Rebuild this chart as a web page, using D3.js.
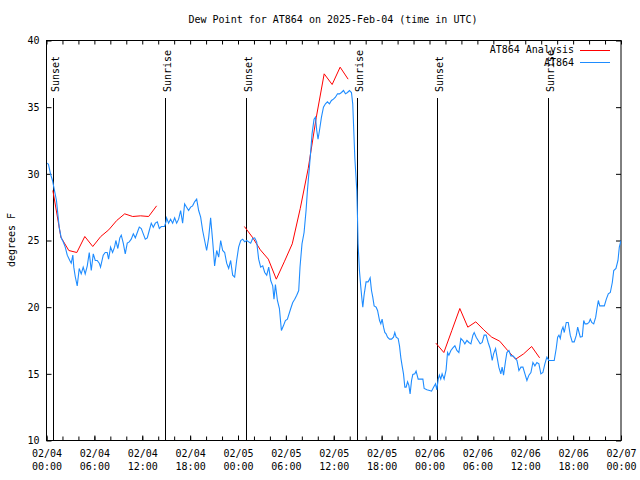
<!DOCTYPE html>
<html>
<head>
<meta charset="utf-8">
<script src="https://cdn.jsdelivr.net/npm/d3@7/dist/d3.min.js"></script>
<style>
html,body{margin:0;padding:0;background:#fff;}
svg{display:block;}
text{font-family:"DejaVu Sans Mono","Liberation Mono",monospace;font-size:10px;fill:#000;}
</style>
</head>
<body>
<script>
// ---- data (hours after 2025-02-04 00:00 UTC) ----
const titleText = "Dew Point for AT864 on 2025-Feb-04 (time in UTC)";
const yLabelText = "degrees F";
const seriesNames = ["AT864 Analysis", "AT864"];
const yTicks = [10, 15, 20, 25, 30, 35, 40];
const xTickHours = [0, 6, 12, 18, 24, 30, 36, 42, 48, 54, 60, 66, 72];
const xTickLabels = [["02/04","00:00"],["02/04","06:00"],["02/04","12:00"],["02/04","18:00"],
  ["02/05","00:00"],["02/05","06:00"],["02/05","12:00"],["02/05","18:00"],
  ["02/06","00:00"],["02/06","06:00"],["02/06","12:00"],["02/06","18:00"],["02/07","00:00"]];
const sunEventHours = [0.83, 14.85, 24.95, 38.88, 48.92, 62.86];
const sunEventNames = ["Sunset", "Sunrise", "Sunset", "Sunrise", "Sunset", "Sunrise"];

const analysisHours = [0.8,1.8,2.8,3.8,4.8,5.8,6.8,7.8,8.8,9.8,10.8,11.8,12.8,13.8, null,
  24.8,25.8,26.8,27.8,28.8,29.8,30.8,31.8,32.8,33.8,34.8,35.8,36.8,37.8, null,
  48.8,49.8,50.8,51.8,52.8,53.8,54.8,55.8,56.8,57.8,58.8,59.8,60.8,61.8];
const analysisValues = [28.75,25.25,24.25,24.1,25.3,24.55,25.3,25.8,26.5,27.0,26.8,26.85,26.8,27.6, null,
  26.05,25.25,24.3,23.6,22.1,23.4,24.75,27.4,30.4,34.2,37.5,36.7,38.0,37.1, null,
  17.3,16.6,18.25,19.9,18.5,18.9,18.3,17.75,17.45,16.75,16.1,16.5,17.05,16.2];

const obsHours = [0.1,0.25,0.5,0.75,1.0,1.25,1.42,1.59,1.84,2.09,2.35,2.6,2.92,3.1,3.3,3.42,3.6,3.85,4.1,4.35,
  4.6,4.85,5.11,5.36,5.61,5.86,6.11,6.36,6.61,6.77,7.11,7.36,7.61,7.78,8.03,8.28,8.53,8.69,8.94,9.19,
  9.37,9.62,9.87,10.12,10.37,10.62,10.88,11.13,11.38,11.63,11.88,12.13,12.38,12.63,12.88,13.13,13.38,13.64,13.89,14.14,
  14.39,14.8,14.97,15.05,15.3,15.55,15.81,16.06,16.31,16.56,16.81,17.06,17.31,17.56,17.81,18.06,18.31,18.56,18.82,19.07,
  19.32,19.57,19.82,20.07,20.32,20.57,20.82,21.07,21.33,21.58,21.83,22.08,22.33,22.58,22.83,23.08,23.33,23.58,23.83,24.08,
  24.34,24.59,24.84,25.09,25.34,25.59,25.84,26.09,26.34,26.59,26.84,27.1,27.35,27.6,27.85,28.1,28.35,28.51,28.69,28.94,
  29.19,29.44,29.69,29.94,30.19,30.61,30.86,31.11,31.36,31.61,31.77,32.02,32.28,32.53,32.7,32.95,33.12,33.28,33.53,33.71,
  33.87,34.03,34.21,34.46,34.71,34.96,35.21,35.46,35.71,35.96,36.21,36.47,36.72,36.97,37.22,37.47,37.72,37.97,38.22,38.38,
  38.64,38.89,38.97,39.05,39.22,39.39,39.55,39.64,39.8,40.05,40.3,40.48,40.56,40.73,40.89,41.06,41.31,41.49,41.74,41.9,
  42.06,42.24,42.4,42.56,42.74,42.99,43.24,43.49,43.65,43.82,44.07,44.24,44.41,44.57,44.74,44.91,45.07,45.25,45.41,45.57,
  45.75,45.91,46.16,46.32,46.58,46.91,47.17,47.33,47.67,48.01,48.26,48.51,48.76,48.92,49.09,49.24,49.41,49.58,49.83,50.08,
  50.26,50.43,50.68,50.93,51.18,51.43,51.68,51.93,52.18,52.43,52.69,52.94,53.19,53.44,53.6,53.85,54.1,54.35,54.6,54.85,
  55.1,55.35,55.6,55.86,56.03,56.28,56.44,56.69,56.94,57.1,57.28,57.54,57.7,57.95,58.2,58.45,58.71,58.96,59.21,59.46,
  59.71,59.96,60.21,60.46,60.71,60.96,61.21,61.46,61.71,61.96,62.21,62.46,62.71,62.96,63.21,63.63,63.88,64.06,64.22,64.39,
  64.56,64.73,64.89,65.14,65.39,65.64,65.89,66.14,66.4,66.57,66.74,66.9,67.15,67.33,67.49,67.74,67.99,68.15,68.33,68.58,
  68.83,68.99,69.16,69.34,69.91,70.16,70.41,70.66,70.91,71.09,71.37,71.62,71.79,72.0];
const obsValues = [30.8,30.7,30.0,29.5,28.75,28.0,27.0,26.0,25.2,24.9,24.5,23.9,23.5,23.3,23.9,23.0,22.3,21.6,22.9,22.5,
  23.0,22.5,23.1,24.1,22.75,24.0,23.5,23.5,23.3,23.0,23.9,24.1,24.1,23.6,24.5,24.1,24.5,25.0,24.4,25.2,
  25.4,24.8,24.0,24.8,24.9,25.1,25.5,25.2,25.6,26.0,25.9,25.5,25.1,25.2,25.75,26.3,26.0,26.3,26.4,25.9,
  26.05,26.05,26.4,26.7,26.3,26.6,26.3,26.7,26.3,26.6,27.25,26.3,27.75,27.5,27.25,27.5,27.6,27.9,28.1,27.25,
  26.75,25.75,25.0,24.25,25.2,26.7,25.0,23.1,24.25,23.75,25.0,24.25,24.1,23.3,22.9,23.5,22.4,22.25,23.5,24.5,
  25.0,25.1,24.9,25.0,24.9,24.8,25.15,25.2,24.9,23.6,23.0,23.1,22.6,22.4,23.0,22.0,21.6,20.6,21.7,20.5,
  19.9,18.25,18.6,19.0,19.1,19.9,20.35,20.6,20.9,21.25,23.0,24.75,25.6,27.25,28.75,30.5,31.75,33.0,34.1,34.25,
  33.25,32.6,33.25,34.25,35.0,35.25,35.4,35.25,35.5,35.6,35.75,36.0,36.0,36.1,36.25,36.0,36.1,36.25,36.1,35.25,
  31.2,28.75,26.9,24.75,22.75,21.5,20.5,20.0,20.9,21.9,21.9,22.1,22.2,21.25,20.75,20.1,20.0,19.75,19.0,18.75,
  19.1,18.5,18.1,18.0,17.75,17.6,17.6,17.75,18.1,17.75,17.65,17.1,16.2,15.6,15.0,14.0,14.0,14.4,14.15,13.5,
  14.5,14.95,15.0,15.2,14.6,14.6,14.6,13.9,13.8,13.75,13.7,14.0,14.25,13.8,14.6,14.9,14.6,15.0,14.6,15.3,
  16.6,16.4,16.75,16.95,17.1,16.75,16.6,17.65,17.5,17.25,17.5,17.35,17.25,17.9,18.1,17.75,17.5,17.25,17.35,17.9,
  17.9,17.35,16.9,16.0,16.5,16.9,16.35,15.5,15.0,15.5,14.9,16.0,16.6,16.75,16.35,16.35,16.2,16.0,15.25,15.5,
  15.5,15.0,14.5,14.9,15.1,15.85,15.6,15.85,15.75,15.0,15.1,15.75,16.25,16.0,16.0,16.0,16.9,17.75,17.9,17.65,
  18.25,18.5,18.1,18.85,18.85,17.9,17.4,17.4,17.9,18.5,18.1,17.75,17.8,19.0,18.75,18.75,18.85,19.1,18.85,18.75,
  19.25,19.9,20.5,20.1,20.1,20.6,21.0,21.1,21.85,22.75,22.9,23.5,24.5,25.0];

const analysisColor = "#ff0000";
const obsColor = "#1e8cff";

// ---- drawing ----
const W = 640, H = 480;
const m = {left: 46.5, right: 621, top: 40.5, bottom: 440.5};
const t0 = Date.UTC(2025, 1, 4, 0, 0, 0);
const toDate = h => new Date(t0 + h * 3600000);

const x = d3.scaleUtc().domain([toDate(0), toDate(72)]).range([m.left, m.right]);
const y = d3.scaleLinear().domain([10, 40]).range([m.bottom, m.top]);

const svg = d3.select("body").append("svg").attr("width", W).attr("height", H);

// title
svg.append("text").attr("x", 333).attr("y", 19).attr("text-anchor", "middle")
  .attr("dominant-baseline", "central").text(titleText);

// y label
svg.append("text").attr("transform", "translate(11,240) rotate(-90)")
  .attr("text-anchor", "middle").attr("dominant-baseline", "central").text(yLabelText);

const minorHours = d3.range(0, 73, 2);

// bottom axis
const gB = svg.append("g").attr("transform", `translate(0,${m.bottom})`)
  .call(d3.axisBottom(x).tickValues(minorHours.map(toDate)).tickSizeInner(-4).tickSizeOuter(0).tickFormat(() => ""));
const gBL = svg.append("g").attr("transform", `translate(0,${m.bottom})`)
  .call(d3.axisBottom(x).tickValues(xTickHours.map(toDate)).tickSizeInner(-5).tickSizeOuter(0)
    .tickFormat(() => ""));
gBL.selectAll(".tick").each(function(d, i) {
  const t = d3.select(this).select("text");
  t.attr("y", null).attr("dy", null).text(null);
  t.append("tspan").attr("x", 0).attr("y", 12.5).attr("dominant-baseline", "central").text(xTickLabels[i][0]);
  t.append("tspan").attr("x", 0).attr("y", 25.5).attr("dominant-baseline", "central").text(xTickLabels[i][1]);
});
// top mirror ticks
svg.append("g").attr("transform", `translate(0,${m.top})`)
  .call(d3.axisTop(x).tickValues(minorHours.map(toDate)).tickSizeInner(-4).tickSizeOuter(0).tickFormat(() => ""));

// left axis
svg.append("g").attr("transform", `translate(${m.left},0)`)
  .call(d3.axisLeft(y).tickValues(yTicks).tickSizeInner(-5).tickSizeOuter(0).tickPadding(7).tickFormat(d3.format("d")));
// right mirror
svg.append("g").attr("transform", `translate(${m.right},0)`)
  .call(d3.axisRight(y).tickValues(yTicks).tickSizeInner(-5).tickSizeOuter(0).tickFormat(() => ""));

svg.selectAll(".domain").remove();
svg.selectAll(".tick line").attr("stroke", "#000");
svg.selectAll(".tick text").attr("font-family", null).attr("font-size", null).attr("fill", "#000");
svg.selectAll("g").attr("font-family", null).attr("font-size", null);

// border
svg.append("rect").attr("x", m.left).attr("y", m.top)
  .attr("width", m.right - m.left).attr("height", m.bottom - m.top)
  .attr("fill", "none").attr("stroke", "#000").attr("stroke-width", 1);

// sunrise / sunset markers
sunEventHours.forEach((h, i) => {
  const px = Math.round(x(toDate(h))) + 0.5;
  svg.append("line").attr("x1", px).attr("x2", px).attr("y1", 98).attr("y2", m.bottom)
    .attr("stroke", "#000").attr("stroke-width", 1);
  svg.append("text").attr("transform", `translate(${px + 1.5},92) rotate(-90)`)
    .attr("text-anchor", "start").attr("dominant-baseline", "central").text(sunEventNames[i]);
});

// clip
svg.append("clipPath").attr("id", "clip").append("rect")
  .attr("x", m.left).attr("y", m.top).attr("width", m.right - m.left).attr("height", m.bottom - m.top);

const analysisData = analysisHours.map((h, i) => ({h, v: analysisValues[i]}));
const obsData = obsHours.map((h, i) => ({h, v: obsValues[i]}));

const line = d3.line()
  .defined(d => d.h != null && d.v != null)
  .x(d => x(toDate(d.h))).y(d => y(d.v));

svg.append("path").datum(analysisData).attr("clip-path", "url(#clip)")
  .attr("fill", "none").attr("stroke", analysisColor).attr("stroke-width", 1).attr("d", line);
svg.append("path").datum(obsData).attr("clip-path", "url(#clip)")
  .attr("fill", "none").attr("stroke", obsColor).attr("stroke-width", 1.1).attr("d", line);

// legend
const legendColors = [analysisColor, obsColor];
seriesNames.forEach((name, i) => {
  const ly = 49.5 + i * 12.5;
  svg.append("text").attr("x", 574).attr("y", ly).attr("text-anchor", "end")
    .attr("dominant-baseline", "central").text(name);
  svg.append("line").attr("x1", 580).attr("x2", 610).attr("y1", Math.round(ly) + 0.5).attr("y2", Math.round(ly) + 0.5)
    .attr("stroke", legendColors[i]).attr("stroke-width", 1);
});
</script>
</body>
</html>
